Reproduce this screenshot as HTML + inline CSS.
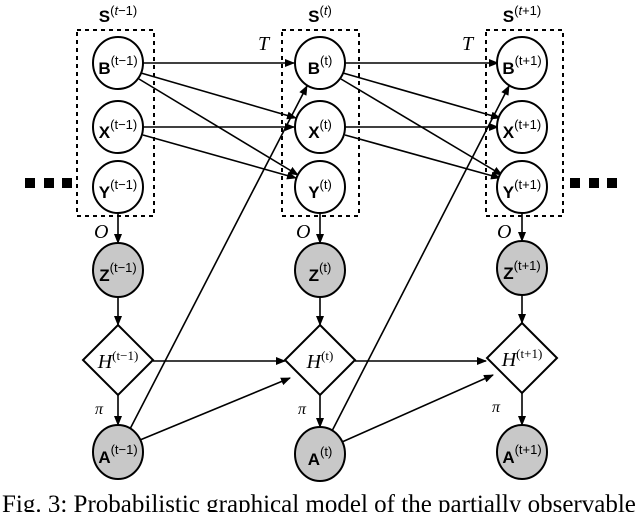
<!DOCTYPE html>
<html><head><style>body{margin:0;background:#fff;overflow:hidden}svg{display:block}</style></head><body>
<svg width="640" height="512" xmlns="http://www.w3.org/2000/svg" font-family="Liberation Sans, sans-serif">
<defs><marker id="a" markerWidth="10" markerHeight="8" refX="9" refY="4" orient="auto" markerUnits="userSpaceOnUse"><path d="M0,0L10,4L0,8z" fill="#000"/></marker></defs>
<g fill="none" stroke="#000" stroke-width="2" stroke-dasharray="4,4">
<rect x="77" y="30" width="77" height="186"/><rect x="282" y="30" width="77" height="186"/><rect x="486" y="30" width="77" height="186"/>
</g>
<g fill="#000"><rect x="25" y="178" width="10" height="10"/><rect x="44" y="178" width="10" height="10"/><rect x="62" y="178" width="10" height="10"/>
<rect x="570" y="178" width="10" height="10"/><rect x="589" y="178" width="10" height="10"/><rect x="607" y="178" width="10" height="10"/></g>
<g stroke="#000" stroke-width="1.6" marker-end="url(#a)" fill="none">
<line x1="143" y1="63" x2="294" y2="63"/><line x1="141" y1="73" x2="296" y2="118"/><line x1="139" y1="79" x2="298" y2="175"/>
<line x1="143" y1="127" x2="294" y2="127"/><line x1="143" y1="135" x2="296" y2="178"/>
<line x1="345" y1="63" x2="498" y2="63"/><line x1="343" y1="73" x2="500" y2="118"/><line x1="341" y1="79" x2="502" y2="175"/>
<line x1="345" y1="127" x2="498" y2="127"/><line x1="345" y1="135" x2="500" y2="178"/>
<line x1="130" y1="429" x2="307" y2="86"/><line x1="332" y1="431" x2="509" y2="86"/>
<line x1="140" y1="440" x2="290" y2="378"/><line x1="342" y1="442" x2="493" y2="375"/>
<line x1="153" y1="361" x2="285" y2="361"/><line x1="355" y1="361" x2="486" y2="361"/>
<line x1="118" y1="213" x2="118" y2="243"/><line x1="320" y1="213" x2="320" y2="243"/><line x1="522" y1="213" x2="522" y2="241"/>
<line x1="118" y1="296" x2="118" y2="325"/><line x1="320" y1="296" x2="320" y2="325"/><line x1="522" y1="294" x2="522" y2="323"/>
<line x1="118" y1="395" x2="118" y2="425"/><line x1="320" y1="395" x2="320" y2="427"/><line x1="522" y1="393" x2="522" y2="425"/>
</g>
<g stroke="#000" stroke-width="2">
<g fill="#fff"><ellipse cx="118" cy="63" rx="25" ry="26"/><ellipse cx="118" cy="127" rx="25" ry="26"/><ellipse cx="118" cy="187" rx="25" ry="26"/>
<ellipse cx="320" cy="63" rx="25" ry="26"/><ellipse cx="320" cy="127" rx="25" ry="26"/><ellipse cx="320" cy="187" rx="25" ry="26"/>
<ellipse cx="522" cy="63" rx="25" ry="26"/><ellipse cx="522" cy="127" rx="25" ry="26"/><ellipse cx="522" cy="187" rx="25" ry="26"/>
<path d="M118,325L153,360L118,395L83,360z"/><path d="M320,325L355,360L320,395L285,360z"/><path d="M522,323L557,358L522,393L487,358z"/></g>
<g fill="#c8c8c8"><ellipse cx="118" cy="270" rx="25" ry="27"/><ellipse cx="320" cy="270" rx="25" ry="27"/><ellipse cx="522" cy="268" rx="25" ry="27"/>
<ellipse cx="118" cy="452" rx="25" ry="27"/><ellipse cx="320" cy="454" rx="25" ry="27"/><ellipse cx="522" cy="452" rx="25" ry="27"/></g>
</g>
<g font-size="17" font-weight="bold" text-anchor="middle">
<text x="118" y="22">S<tspan font-weight="normal" font-size="13" dy="-7">(<tspan font-style="italic">t</tspan>−1)</tspan></text>
<text x="320" y="22">S<tspan font-weight="normal" font-size="13" dy="-7">(<tspan font-style="italic">t</tspan>)</tspan></text>
<text x="522" y="22">S<tspan font-weight="normal" font-size="13" dy="-7">(<tspan font-style="italic">t</tspan>+1)</tspan></text>
</g>
<g font-size="17" font-weight="bold" text-anchor="middle">
<text x="118" y="74">B<tspan font-weight="normal" font-size="13" dy="-9">(t−1)</tspan></text>
<text x="118" y="138">X<tspan font-weight="normal" font-size="13" dy="-9">(t−1)</tspan></text>
<text x="118" y="198">Y<tspan font-weight="normal" font-size="13" dy="-9">(t−1)</tspan></text>
<text x="320" y="74">B<tspan font-weight="normal" font-size="13" dy="-9">(t)</tspan></text>
<text x="320" y="138">X<tspan font-weight="normal" font-size="13" dy="-9">(t)</tspan></text>
<text x="320" y="198">Y<tspan font-weight="normal" font-size="13" dy="-9">(t)</tspan></text>
<text x="522" y="74">B<tspan font-weight="normal" font-size="13" dy="-9">(t+1)</tspan></text>
<text x="522" y="138">X<tspan font-weight="normal" font-size="13" dy="-9">(t+1)</tspan></text>
<text x="522" y="198">Y<tspan font-weight="normal" font-size="13" dy="-9">(t+1)</tspan></text>
<text x="118" y="281">Z<tspan font-weight="normal" font-size="13" dy="-9">(t−1)</tspan></text>
<text x="320" y="281">Z<tspan font-weight="normal" font-size="13" dy="-9">(t)</tspan></text>
<text x="522" y="279">Z<tspan font-weight="normal" font-size="13" dy="-9">(t+1)</tspan></text>
<text x="118" y="463">A<tspan font-weight="normal" font-size="13" dy="-9">(t−1)</tspan></text>
<text x="320" y="465">A<tspan font-weight="normal" font-size="13" dy="-9">(t)</tspan></text>
<text x="522" y="463">A<tspan font-weight="normal" font-size="13" dy="-9">(t+1)</tspan></text>
</g>
<g font-family="Liberation Serif, serif" font-style="italic" font-size="20">
<g text-anchor="middle">
<text x="118" y="368">H<tspan font-style="normal" font-size="13" dy="-8">(t−1)</tspan></text>
<text x="320" y="368">H<tspan font-style="normal" font-size="13" dy="-8">(t)</tspan></text>
<text x="522" y="366">H<tspan font-style="normal" font-size="13" dy="-8">(t+1)</tspan></text>
</g>
<text x="258" y="50">T</text><text x="462" y="50">T</text>
<text x="94" y="238">O</text><text x="296" y="238">O</text><text x="497" y="238">O</text>
<text x="95" y="414" font-size="16">π</text><text x="298" y="414" font-size="16">π</text><text x="492" y="412" font-size="16">π</text>
</g>
<text x="2" y="512" font-family="Liberation Serif, serif" font-size="25">Fig. 3: Probabilistic graphical model of the partially observable</text>
</svg>
</body></html>
